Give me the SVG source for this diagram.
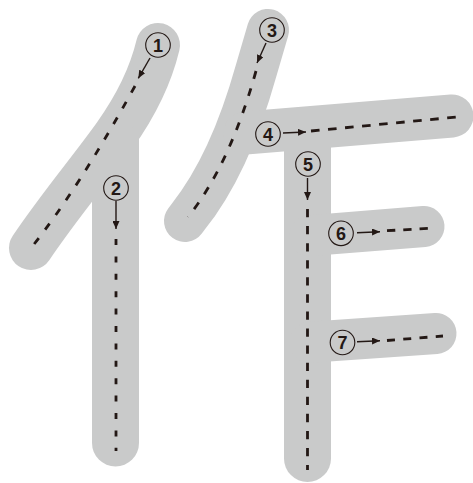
<svg xmlns="http://www.w3.org/2000/svg" width="473" height="483" viewBox="0 0 473 483">
<defs>
<style>
.band{fill:none;stroke:#c9caca;stroke-linecap:round;stroke-linejoin:round}
.bandf{fill:#c9caca}
.dash{fill:none;stroke:#231815;stroke-width:2.8}
.arr{fill:none;stroke:#231815;stroke-width:1.4;marker-end:url(#ah)}
.ring{fill:none;stroke:#231815;stroke-width:1.1}
.num{font-family:"Liberation Sans",Arial,sans-serif;font-weight:bold;font-size:18px;fill:#231815;text-anchor:middle}
</style>
<marker id="ah" markerUnits="userSpaceOnUse" viewBox="0 0 8 7" markerWidth="8" markerHeight="7" refX="8" refY="3.5" orient="auto"><path d="M0,0 L8,3.5 L0,7 Z" fill="#231815"/></marker>
</defs>
<g id="bands">
<g id="band-1"><path class="band" stroke-width="44" d="M158,45 C152,70 140,100 115,135 S60,205 31,248"/></g>
<g id="band-2"><path class="bandf" d="M92,175 L139,120 L139,443 A23.5,23.5 0 0 1 92,443 Z"/></g>
<g id="band-3"><path class="band" stroke-width="42" d="M268,30 L256,71 Q229.7,164.9 188,217 L185,221"/></g>
<g id="band-4"><path class="band" stroke-width="43" d="M245,133 L452,116"/></g>
<g id="band-5"><path class="bandf" d="M284,128 L331,128 L331,458.5 A23.5,23.5 0 0 1 284,458.5 Z"/></g>
<g id="band-6"><path class="band" stroke-width="41" d="M310,235.6 L424,226.5"/></g>
<g id="band-7"><path class="band" stroke-width="41" d="M310,342.3 L436,333.5"/></g>
</g>
<g id="connectors">
<path class="dash" stroke-dasharray="7.5 10.5" d="M135,86 Q78.7,188.4 31,248"/>
<path class="dash" stroke-dasharray="6 11.4" d="M116,239 L116,451"/>
<path class="dash" stroke-dasharray="8 10" d="M256,71 Q229.7,164.9 188,217"/>
<path class="dash" stroke-dasharray="8.6 8.5" d="M311,131 L457,117"/>
<path class="dash" stroke-dasharray="8.3 8.77" d="M307.5,209 L307.5,470"/>
<path class="dash" stroke-dasharray="8.3 8" d="M387,230.7 L429.5,228.3"/>
<path class="dash" stroke-dasharray="8 8.3" d="M387,340.5 L443,336"/>
<path class="arr" d="M150,58 L138.3,78.3"/>
<path class="arr" d="M116,201 L116,229"/>
<path class="arr" d="M266,43 L257,63"/>
<path class="arr" d="M283,133 L306,132"/>
<path class="arr" d="M307.5,178 L307.5,200"/>
<path class="arr" d="M357,232.7 L380,231.7"/>
<path class="arr" d="M357,341.7 L380,340.7"/>
</g>
<g id="stroke-1"><circle class="ring" cx="158" cy="45" r="12.3"/><text class="num" x="158" y="51.5">1</text></g>
<g id="stroke-2"><circle class="ring" cx="116" cy="188" r="12.3"/><text class="num" x="116" y="194.5">2</text></g>
<g id="stroke-3"><circle class="ring" cx="272" cy="30" r="12.3"/><text class="num" x="272" y="36.5">3</text></g>
<g id="stroke-4"><circle class="ring" cx="268" cy="134" r="12.3"/><text class="num" x="268" y="140.5">4</text></g>
<g id="stroke-5"><circle class="ring" cx="308" cy="164" r="12.3"/><text class="num" x="308" y="170.5">5</text></g>
<g id="stroke-6"><circle class="ring" cx="341" cy="233.3" r="12.3"/><text class="num" x="341" y="239.8">6</text></g>
<g id="stroke-7"><circle class="ring" cx="342.5" cy="342.5" r="12.3"/><text class="num" x="342.5" y="349">7</text></g>
</svg>
